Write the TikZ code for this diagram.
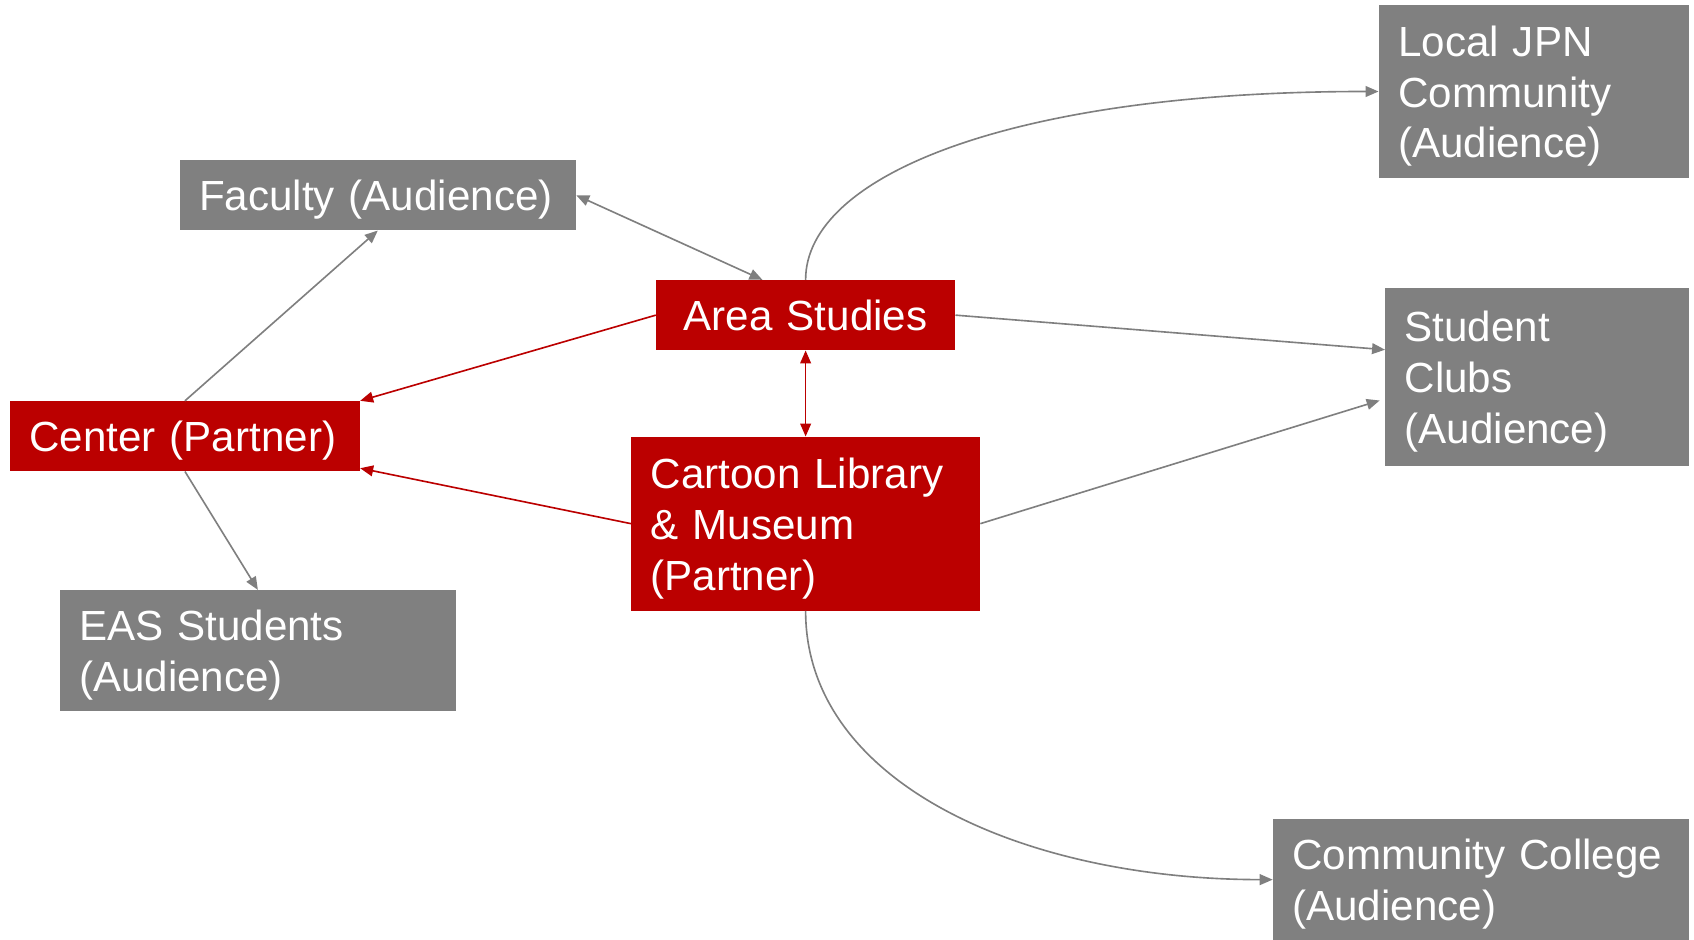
\documentclass[tikz,border=0pt]{standalone}
\usepackage{fontspec}
\setmainfont{Liberation Sans}
\usetikzlibrary{arrows.meta}
\definecolor{boxred}{HTML}{BB0000}
\definecolor{boxgray}{HTML}{808080}
\definecolor{linegray}{HTML}{7F7F7F}
\begin{document}
\begin{tikzpicture}[x=1pt,y=-1pt,
  box/.style={anchor=north west, inner xsep=18pt, inner ysep=0pt, text=white,
    font=\fontsize{39}{47}\selectfont, align=left},
  lowered/.style={text height=37pt},
  redbox/.style={box, fill=boxred},
  graybox/.style={box, fill=boxgray, lowered},
  glink/.style={draw=linegray, line width=1.5pt, -{Triangle[length=12pt,width=10pt]}},
  rlink/.style={draw=boxred, line width=1.5pt, -{Triangle[length=12pt,width=10pt]}},
  tips/.style={{Triangle[length=12pt,width=10pt]}-{Triangle[length=12pt,width=10pt]}},
]
\useasboundingbox (0,0) rectangle (1568,870);
% boxes
\node[graybox, text width=331pt, minimum height=65pt] (faculty) at (166,148) {Faculty (Audience)};
\node[redbox, text width=241pt, minimum height=65pt, align=center] (area) at (607,259) {Area Studies};
\node[redbox, lowered, text width=288pt, minimum height=65pt] (center) at (9,371) {Center (Partner)};
\node[redbox, lowered, text width=287pt, minimum height=161pt] (cartoon) at (584,404) {Cartoon Library\\\& Museum\\(Partner)};
\node[graybox, text width=331pt, minimum height=112pt] (eas) at (55,546) {EAS Students\\(Audience)};
\node[graybox, text width=251pt, minimum height=161pt] (local) at (1276,4) {Local JPN\\Community\\(Audience)};
\node[graybox, text width=245pt, minimum height=165pt] (student) at (1282,266) {Student\\Clubs\\(Audience)};
\node[graybox, text width=349pt, minimum height=112pt] (cc) at (1178,758) {Community College\\(Audience)};
% connectors
\draw[glink] (center.north) -- (faculty.south);
\draw[glink, tips] (faculty.east) -- ([xshift=-40pt]area.north);
\draw[rlink] (area.west) -- (center.north east);
\draw[rlink] (cartoon.west) -- ([yshift=3pt]center.south east);
\draw[rlink, tips] (area.south) -- (cartoon.north);
\draw[glink] (center.south) -- (eas.north);
\draw[glink] (area.north) .. controls (745.5,163) and (935,84.5) .. (local.west);
\draw[glink] (area.east) -- ([yshift=25pt]student.west);
\draw[glink] (cartoon.east) -- ([xshift=-5pt,yshift=-22pt]student.west);
\draw[glink] (cartoon.south) .. controls (745.5,725) and (948,814) .. (cc.west);
\end{tikzpicture}
\end{document}
